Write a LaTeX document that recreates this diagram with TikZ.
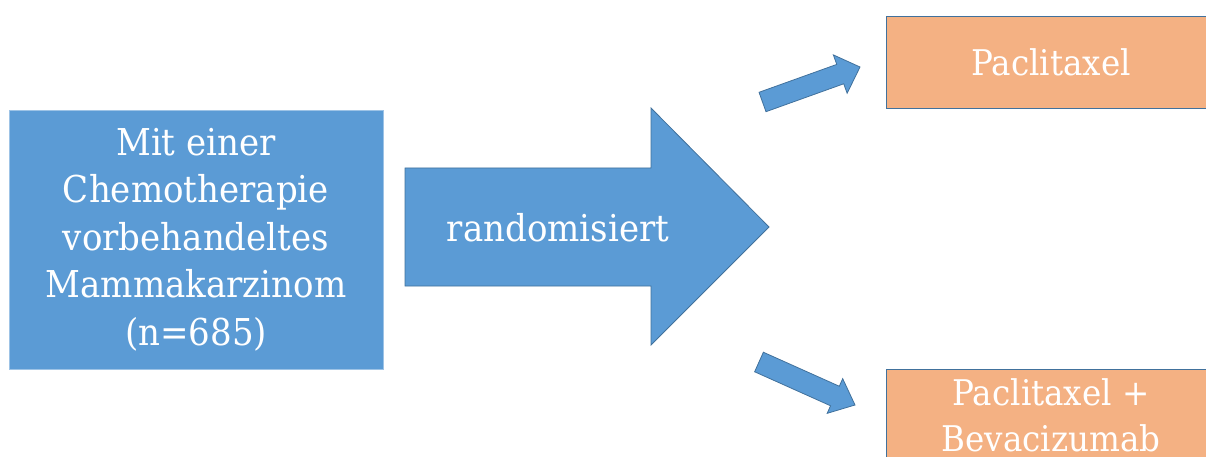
\documentclass[tikz,border=0pt]{standalone}
\usepackage{fontspec}
\setmainfont{DejaVu Serif}[FakeStretch=0.92]
\usetikzlibrary{calc}

\definecolor{boxblue}{HTML}{5B9BD5}
\definecolor{edgeblue}{HTML}{41719C}
\definecolor{peach}{HTML}{F4B183}

% block arrow from tail #1 to tip #2: half shaft width #3, half head width #4, head length #5
\newcommand\splitarrow[5]{%
  \coordinate (hb) at ($(#2)!#5!(#1)$);
  \path[blockarrow]
    ($(#1)!#3!90:(#2)$) -- ($(hb)!#3!90:(#2)$) -- ($(hb)!#4!90:(#2)$) -- (#2)
    -- ($(hb)!#4!-90:(#2)$) -- ($(hb)!#3!-90:(#2)$) -- ($(#1)!#3!-90:(#2)$) -- cycle;
}

\begin{document}
\begin{tikzpicture}[x=1pt,y=-1pt,
  patientbox/.style={fill=boxblue, draw=boxblue!60!white, line width=0.8pt,
    inner sep=0pt, align=center, text=white,
    font=\fontsize{37}{47.5}\selectfont},
  armbox/.style={fill=peach, draw=edgeblue, line width=0.9pt,
    inner sep=0pt, align=center, text=white,
    font=\fontsize{35.4}{46}\selectfont},
  blockarrow/.style={fill=boxblue, draw=edgeblue, line width=0.8pt, line join=miter},
  arrowtext/.style={text=white, inner sep=0pt, font=\fontsize{37}{40}\selectfont}]

\useasboundingbox (0,0) rectangle (1206,457);
\begin{scope}
  \clip (0,0) rectangle (1206,457);

  % patient population
  \node[patientbox, minimum width=374pt, minimum height=259pt] (pat) at (196,239.5)
    {Mit einer\\Chemotherapie\\vorbehandeltes\\Mammakarzinom\\(n=685)};

  % randomisation arrow
  \coordinate (rs1) at (405,168);
  \coordinate (rs2) at (651,168);
  \coordinate (rh1) at (651,108);
  \coordinate (rtip) at (769,227);
  \coordinate (rh2) at (651,345);
  \coordinate (rs3) at (651,286);
  \coordinate (rs4) at (405,286);
  \path[blockarrow] (rs1) -- (rs2) -- (rh1) -- (rtip) -- (rh2) -- (rs3) -- (rs4) -- cycle;
  \node[arrowtext] (rand) at (558,228) {randomisiert};

  % treatment arms
  \node[armbox, minimum width=330pt, minimum height=92pt] (pac) at (1051,62) {Paclitaxel};
  \node[armbox, minimum width=330pt, minimum height=92pt] (pacbev) at (1051,415)
    {Paclitaxel +\\Bevacizumab};

  % arrows to the arms
  \coordinate (ua) at (762.5,102);
  \coordinate (ub) at (860,67);
  \splitarrow{ua}{ub}{10.3pt}{20.4pt}{21pt}
  \coordinate (la) at (759,362);
  \coordinate (lb) at (855,405);
  \splitarrow{la}{lb}{10.7pt}{19pt}{22pt}
\end{scope}
\end{tikzpicture}
\end{document}
